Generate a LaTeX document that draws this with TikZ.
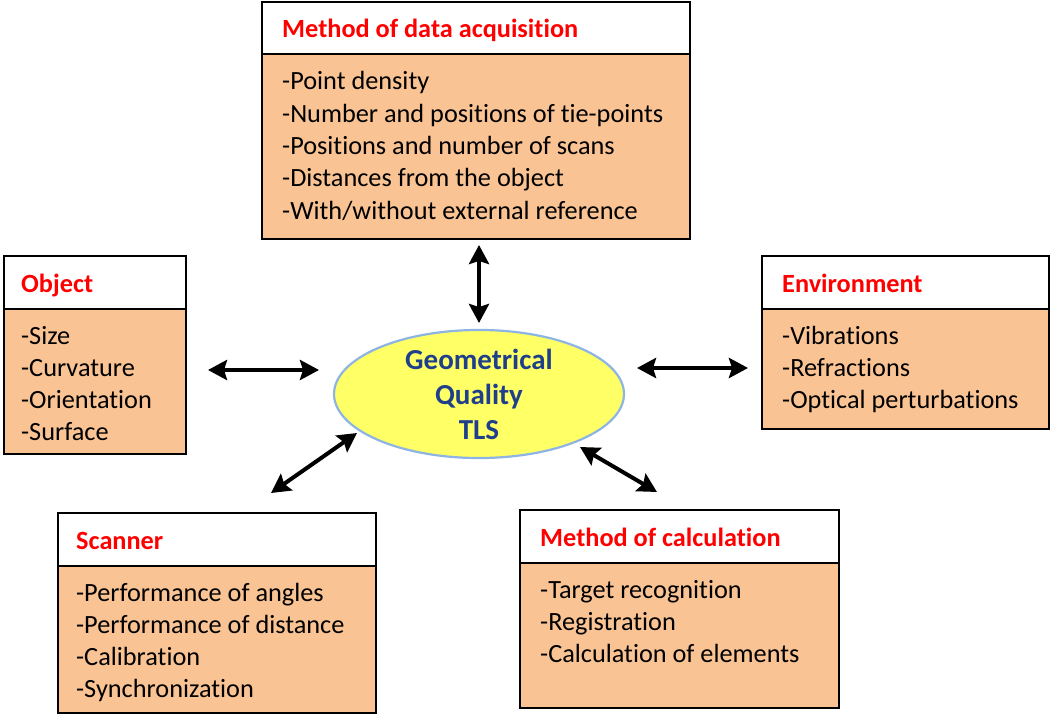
\documentclass[tikz,border=0pt]{standalone}
\usepackage{fontspec}
\setmainfont{Carlito}[Ligatures={NoCommon}]
\usetikzlibrary{arrows.meta,shapes.geometric}
\definecolor{boxfill}{HTML}{F9C394}
\definecolor{titlered}{HTML}{FF0000}
\definecolor{ellfill}{HTML}{FFFF66}
\definecolor{elldraw}{HTML}{8EB4E3}
\definecolor{elltext}{HTML}{1F3F8A}
\newcommand{\ttlfont}{\bfseries\fontsize{26.3}{30}\selectfont}
\newcommand{\itmfont}{\fontsize{26.3}{30}\selectfont}
\begin{document}
\begin{tikzpicture}[x=1pt,y=-1pt,
  head/.style={draw=black,line width=1.6pt,fill=white,anchor=north west,inner sep=0},
  body/.style={draw=black,line width=1.6pt,fill=boxfill,anchor=north west,inner sep=0},
  ttl/.style={font=\ttlfont,text=titlered,anchor=base west,inner sep=0},
  itm/.style={font=\itmfont,text=black,anchor=base west,inner sep=0},
  arr/.style={{Stealth[length=19pt,width=20pt,inset=3pt]}-{Stealth[length=19pt,width=20pt,inset=3pt]},line width=4pt,black}]
\useasboundingbox (0,0) rectangle (1050,714);

% Method of data acquisition
\node[body,minimum width=428pt,minimum height=185pt] (accB) at (261,53) {};
\node[head,minimum width=428pt,minimum height=52pt] (accH) at (261,1) {};
\node[ttl] (accT) at (282,38) {Method of data acquisition};
\foreach \t [count=\i from 0] in {-Point density,-Number and positions of tie-points,-Positions and number of scans,-Distances from the object,-With/without external reference}
  \node[itm] (acc-\i) at (282,90+32.3*\i) {\t};

% Object
\node[body,minimum width=182pt,minimum height=145pt] (objB) at (3,308) {};
\node[head,minimum width=182pt,minimum height=53pt] (objH) at (3,255) {};
\node[ttl] (objT) at (21,292) {Object};
\foreach \t [count=\i from 0] in {-Size,-Curvature,-Orientation,-Surface}
  \node[itm] (obj-\i) at (21,344+32.3*\i) {\t};

% Environment
\node[body,minimum width=287pt,minimum height=120pt] (envB) at (761,308) {};
\node[head,minimum width=287pt,minimum height=53pt] (envH) at (761,255) {};
\node[ttl] (envT) at (782,292) {Environment};
\foreach \t [count=\i from 0] in {-Vibrations,-Refractions,-Optical perturbations}
  \node[itm] (env-\i) at (782,344+32.3*\i) {\t};

% Scanner
\node[body,minimum width=318pt,minimum height=147pt] (scnB) at (57,565) {};
\node[head,minimum width=318pt,minimum height=53pt] (scnH) at (57,512) {};
\node[ttl] (scnT) at (76,549) {Scanner};
\foreach \t [count=\i from 0] in {-Performance of angles,-Performance of distance,-Calibration,-Synchronization}
  \node[itm] (scn-\i) at (76,601+32.3*\i) {\t};

% Method of calculation
\node[body,minimum width=319pt,minimum height=145pt] (calB) at (519,562) {};
\node[head,minimum width=319pt,minimum height=53pt] (calH) at (519,509) {};
\node[ttl] (calT) at (540,546) {Method of calculation};
\foreach \t [count=\i from 0] in {-Target recognition,-Registration,-Calculation of elements}
  \node[itm] (cal-\i) at (540,598+32.3*\i) {\t};

% Central ellipse
\node[ellipse,draw=elldraw,line width=2.2pt,fill=ellfill,minimum width=290pt,minimum height=124pt,
      inner sep=0,font=\bfseries\fontsize{29}{35}\selectfont,text=elltext,align=center] (ell) at (479,394)
  {Geometrical\\Quality\\TLS};

% Arrows
\coordinate (a1s) at (479,245); \coordinate (a1e) at (479,323);
\coordinate (a2s) at (208,370); \coordinate (a2e) at (319,370);
\coordinate (a3s) at (637,368); \coordinate (a3e) at (748,368);
\coordinate (a4s) at (271,493); \coordinate (a4e) at (357,433);
\coordinate (a5s) at (580,447); \coordinate (a5e) at (657,492);
\draw[arr] (a1s) -- (a1e);
\draw[arr] (a2s) -- (a2e);
\draw[arr] (a3s) -- (a3e);
\draw[arr] (a4s) -- (a4e);
\draw[arr] (a5s) -- (a5e);
\end{tikzpicture}
\end{document}
